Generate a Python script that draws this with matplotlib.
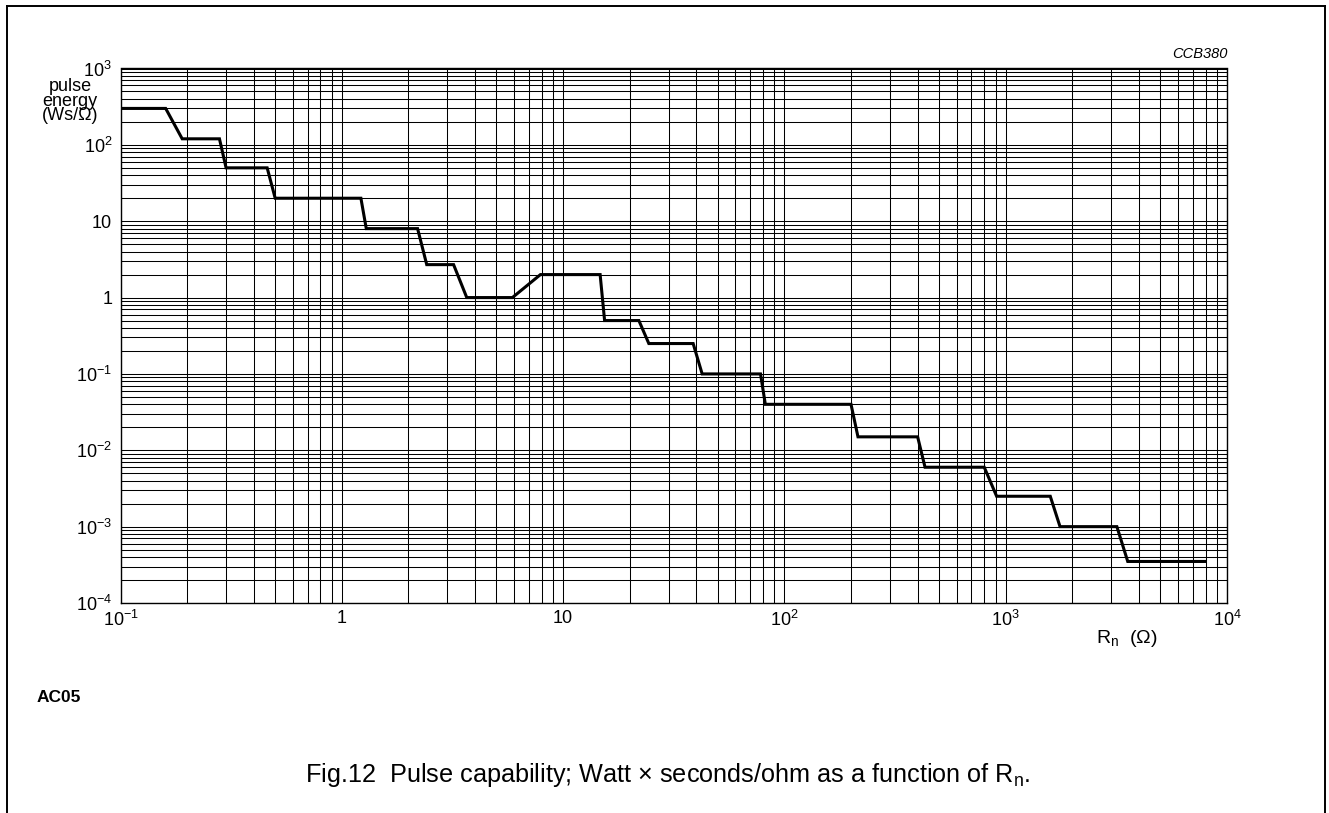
import numpy as np
import matplotlib
matplotlib.use('Agg')
import matplotlib.pyplot as plt
from matplotlib.lines import Line2D
from matplotlib.ticker import LogLocator, NullFormatter

plt.rcParams['font.family'] = ['Liberation Sans', 'DejaVu Sans']
plt.rcParams['mathtext.fontset'] = 'custom'
plt.rcParams['mathtext.rm'] = 'Liberation Sans'
plt.rcParams['mathtext.it'] = 'Liberation Sans:italic'
plt.rcParams['mathtext.bf'] = 'Liberation Sans:bold'

# curva de capacidade de pulso: vertices
resistencia = [0.1, 0.16, 0.19, 0.28, 0.3, 0.46, 0.5, 1.22, 1.29, 2.2, 2.42, 3.2,
               3.67, 5.9, 7.9, 14.7, 15.4, 22, 24.4, 38.7, 42.5, 78, 82, 200,
               215, 400, 432, 800, 910, 1590, 1760, 3180, 3560, 7950]
energia = [300, 300, 120, 120, 50, 50, 20, 20, 8, 8, 2.7, 2.7,
           1, 1, 2, 2, 0.5, 0.5, 0.25, 0.25, 0.1, 0.1, 0.04, 0.04,
           0.015, 0.015, 0.006, 0.006, 0.0025, 0.0025, 0.001, 0.001, 0.00035, 0.00035]

ticks_x = [0.1, 1, 10, 100, 1000, 10000]
rotulos_x = [r'$\mathregular{10^{-1}}$', '1', '10', r'$\mathregular{10^{2}}$',
             r'$\mathregular{10^{3}}$', r'$\mathregular{10^{4}}$']
ticks_y = [1e-4, 1e-3, 1e-2, 1e-1, 1, 10, 100, 1000]
rotulos_y = [r'$\mathregular{10^{-4}}$', r'$\mathregular{10^{-3}}$', r'$\mathregular{10^{-2}}$',
             r'$\mathregular{10^{-1}}$', '1', '10', r'$\mathregular{10^{2}}$', r'$\mathregular{10^{3}}$']

fig = plt.figure(figsize=(13.29, 8.13), dpi=100)
ax = fig.add_axes([120.5 / 1329, 1 - 603 / 813, (1227 - 120.5) / 1329, (603 - 68.5) / 813])

ax.plot(resistencia, energia, color='black', lw=2.2, solid_joinstyle='miter')

ax.set_xscale('log')
ax.set_yscale('log')
ax.set_xlim(0.1, 10000)
ax.set_ylim(1e-4, 1000)

ax.xaxis.set_minor_locator(LogLocator(base=10, subs=np.arange(2, 10), numticks=100))
ax.yaxis.set_minor_locator(LogLocator(base=10, subs=np.arange(2, 10), numticks=100))
ax.xaxis.set_minor_formatter(NullFormatter())
ax.yaxis.set_minor_formatter(NullFormatter())
ax.set_xticks(ticks_x)
ax.set_xticklabels(rotulos_x)
ax.set_yticks(ticks_y)
ax.set_yticklabels(rotulos_y)
ax.tick_params(which='both', length=0, labelsize=13)
ax.tick_params(axis='x', pad=5)
ax.tick_params(axis='y', pad=6)

ax.set_axisbelow(True)
ax.grid(True, which='both', color='black', lw=0.75)
for s in ax.spines.values():
    s.set_linewidth(1.0)

# textos
fig.text(70 / 1329, 1 - 101 / 813, 'pulse\nenergy\n(Ws/\u03a9)', ha='center', va='center',
         fontsize=13, linespacing=0.8)
fig.text(1228 / 1329, 1 - 54 / 813, 'CCB380', style='italic', ha='right', va='center', fontsize=10.5)
fig.text(1127 / 1329, 1 - 638 / 813, '$\\mathregular{R_n}$  (\u03a9)',
         ha='center', va='center', fontsize=14)
fig.text(37 / 1329, 1 - 697 / 813, 'AC05', weight='bold', ha='left', va='center', fontsize=12.5)
fig.text(668 / 1329, 1 - 775 / 813,
         'Fig.12  Pulse capability; Watt \u00d7 seconds/ohm as a function of $\\mathregular{R_n}$.',
         ha='center', va='center', fontsize=18.2)

# moldura da pagina
fig.add_artist(Line2D([7 / 1329, 7 / 1329], [0, 1 - 6 / 813], transform=fig.transFigure, color='black', lw=1.4))
fig.add_artist(Line2D([1325 / 1329, 1325 / 1329], [0, 1 - 6 / 813], transform=fig.transFigure, color='black', lw=1.4))
fig.add_artist(Line2D([7 / 1329, 1325 / 1329], [1 - 6 / 813, 1 - 6 / 813], transform=fig.transFigure, color='black', lw=1.4))

fig.savefig('out.png', dpi=100)
